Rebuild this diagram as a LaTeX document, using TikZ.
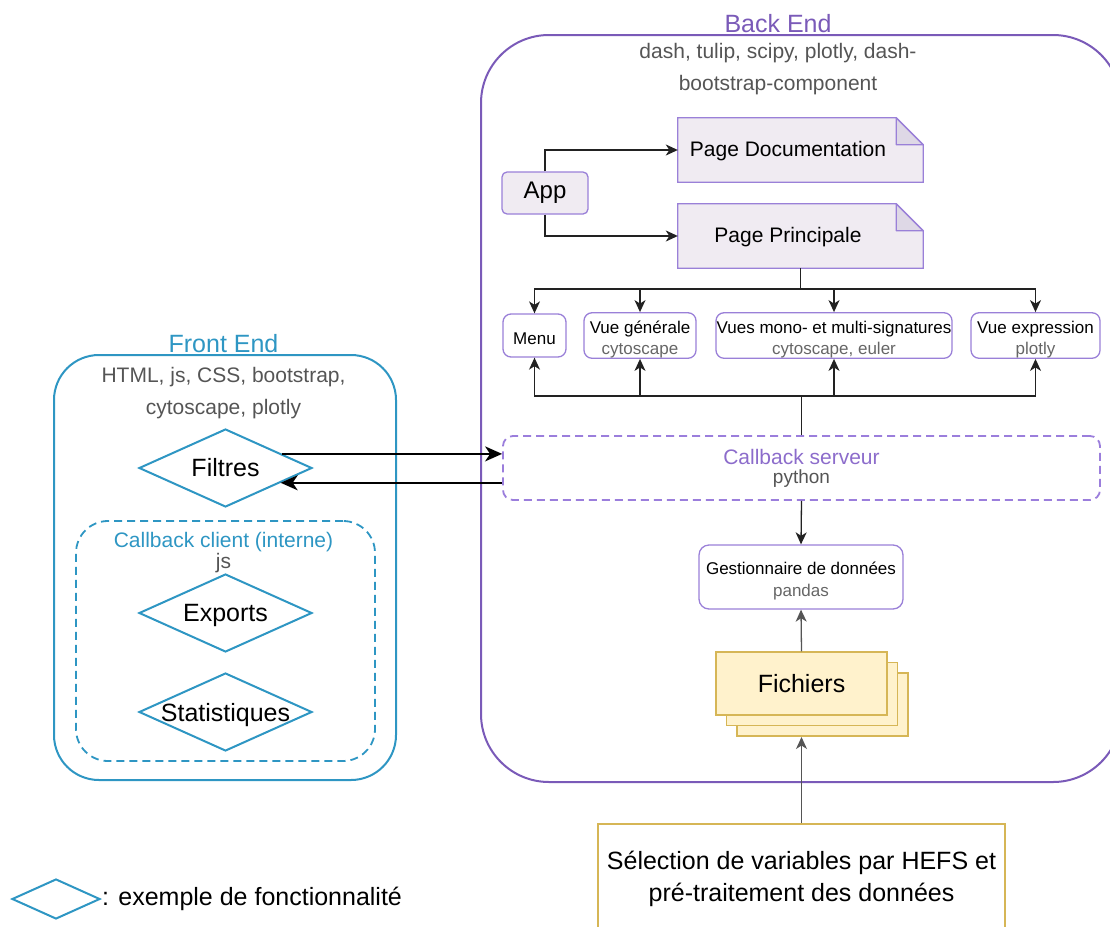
\documentclass[tikz,border=0pt]{standalone}
\usepackage{fontspec}
\setmainfont{Liberation Sans}
\usetikzlibrary{arrows.meta,shapes.geometric,calc,shadows}

\definecolor{frontblue}{HTML}{2E96C3}
\definecolor{backpurple}{HTML}{7A5AB8}
\definecolor{nodepurple}{HTML}{9A80D8}
\definecolor{cbpurple}{HTML}{8C6CCB}
\definecolor{cbdash}{HTML}{9B7EDC}
\definecolor{notefill}{HTML}{F0EBF2}
\definecolor{foldfill}{HTML}{DED8E6}
\definecolor{subgray}{HTML}{555555}
\definecolor{lightgray}{HTML}{666666}
\definecolor{filefill}{HTML}{FFF2CC}
\definecolor{filestroke}{HTML}{D6B656}
\definecolor{linkgray}{HTML}{222222}

% invisible strut that lifts the top of a label box
\newcommand{\toplift}[1]{\rule{0pt}{#1}}

\begin{document}
\begin{tikzpicture}[x=1pt,y=-1pt,
  fs25/.style={font=\fontsize{25}{30}\selectfont},
  fs21/.style={font=\fontsize{21}{32}\selectfont},
  fs17/.style={font=\fontsize{17}{21}\selectfont},
  container/.style={draw, line width=2pt, fill=none, inner sep=0pt},
  dashbox/.style={draw, line width=1.8pt, dash pattern=on 8pt off 5pt, inner sep=0pt},
  rowbox/.style={draw=nodepurple, line width=1.3pt, rounded corners=8pt, fill=white,
    minimum height=43pt, inner sep=0pt, align=center, fs17},
  notebody/.style={draw=nodepurple, line width=1.3pt, fill=notefill},
  notefold/.style={draw=nodepurple, line width=1.3pt, fill=foldfill, line join=round},
  notearea/.style={minimum width=245pt, minimum height=64pt, inner sep=0pt},
  feature/.style={diamond, draw=frontblue, line width=2pt, fill=white, aspect=2.2,
    inner sep=0pt, minimum width=173pt, minimum height=78pt, fs25},
  conn/.style={draw=linkgray, line width=1.3pt, -{Stealth[length=12pt,width=11pt,inset=3.5pt]}},
  grayconn/.style={conn, draw=subgray},
  bigarrow/.style={draw=black, line width=2pt, -{Stealth[length=17pt,width=15pt,inset=5pt]}},
  filebox/.style={draw=filestroke, line width=1.3pt, fill=filefill,
    minimum width=171pt, minimum height=63pt, inner sep=0pt, fs25}
]
\useasboundingbox (0,0) rectangle (1110,926);
\clip (0,0) rectangle (1110,926);

% ---------- Back End ----------
\node[container, draw=backpurple, rounded corners=68pt,
  minimum width=640pt, minimum height=747pt] (back) at (801,408.5) {};
\node[fs25, text=backpurple, anchor=base, inner sep=0pt] (backT) at (778,32) {Back End};
\node[fs21, text=subgray, align=center, inner sep=0pt] (backS) at (778,69)
  {dash, tulip, scipy, plotly, dash-\\bootstrap-component};

% App and its two pages
\node[draw=nodepurple, line width=1.3pt, fill=notefill, rounded corners=5pt,
  minimum width=86pt, minimum height=42pt, inner sep=0pt,
  font=\fontsize{24}{28}\selectfont] (app) at (545,193) {App};

\node[notearea] (doc) at (800.5,150) {};
\path[notebody] (doc.south west) -- (doc.north west) -- ($(doc.north east)+(-27,0)$)
  -- ($(doc.north east)+(0,27)$) -- (doc.south east) -- cycle;
\path[notefold] ($(doc.north east)+(-27,0)$) -- ($(doc.north east)+(-27,27)$)
  -- ($(doc.north east)+(0,27)$) -- cycle;
\node[fs21, inner sep=0pt] (docT) at (788,151.5) {Page Documentation};

\node[notearea] (princ) at (800.5,236) {};
\path[notebody] (princ.south west) -- (princ.north west) -- ($(princ.north east)+(-27,0)$)
  -- ($(princ.north east)+(0,27)$) -- (princ.south east) -- cycle;
\path[notefold] ($(princ.north east)+(-27,0)$) -- ($(princ.north east)+(-27,27)$)
  -- ($(princ.north east)+(0,27)$) -- cycle;
\node[fs21, inner sep=0pt] (princT) at (788,237.5) {Page Principale};

\draw[conn] (app.north) |- (doc.west);
\draw[conn] (app.south) |- (princ.west);

% Views
\node[rowbox, minimum width=63pt] (menu) at (534.5,335.5) {\toplift{18pt}Menu};
\node[rowbox, minimum width=112pt] (vgen) at (640,335.5)
  {\toplift{21pt}Vue générale\\\textcolor{lightgray}{cytoscape}};
\node[rowbox, minimum width=236pt] (vmono) at (834,335.5)
  {\toplift{21pt}Vues mono- et multi-signatures\\\textcolor{lightgray}{cytoscape, euler}};
\node[rowbox, minimum width=129pt] (vexp) at (1035.5,335.5)
  {\toplift{21pt}Vue expression\\\textcolor{lightgray}{plotly}};

\coordinate (topbus) at (800.5,289);
\draw[conn] (princ.south) -- (topbus) -| (menu.north);
\draw[conn] (princ.south) -- (topbus) -| (vgen.north);
\draw[conn] (princ.south) -- (topbus) -| (vmono.north);
\draw[conn] (princ.south) -- (topbus) -| (vexp.north);

% Server callback
\node[dashbox, draw=cbdash, rounded corners=10pt, minimum width=597pt,
  minimum height=64pt, align=center] (cbs) at (801.5,468)
  {{\fontsize{21}{22}\selectfont\textcolor{cbpurple}{Callback serveur}}\\[4pt]
   {\fontsize{19}{22}\selectfont\textcolor{subgray}{python}}};

\coordinate (lowbus) at (801.5,396);
\draw[conn] (cbs.north) -- (lowbus) -| (menu.south);
\draw[conn] (cbs.north) -- (lowbus) -| (vgen.south);
\draw[conn] (cbs.north) -- (lowbus) -| (vmono.south);
\draw[conn] (cbs.north) -- (lowbus) -| (vexp.south);

% Data manager
\node[draw=nodepurple, line width=1.3pt, rounded corners=10pt, fill=white,
  minimum width=204pt, minimum height=64pt, inner sep=0pt, align=center,
  font=\fontsize{17}{22}\selectfont] (gest) at (801,577)
  {\toplift{21pt}Gestionnaire de données\\\textcolor{lightgray}{pandas}};
\draw[conn] (cbs.south) -- (gest.north);

% Files
\node[filebox,
  general shadow={draw=filestroke, fill=filefill, line width=1.3pt,
    shadow xshift=21pt, shadow yshift=-21pt},
  general shadow={draw=filestroke, fill=filefill, line width=1.3pt,
    shadow xshift=10.5pt, shadow yshift=-10.5pt}] (fich) at (801.5,683.5) {Fichiers};
\coordinate (fichback) at (801.5,737);
\draw[grayconn] (fich.north) -- (gest.south);

% Pre-processing
\node[draw=filestroke, line width=1.3pt, fill=white, minimum width=407pt,
  minimum height=110pt, inner sep=0pt, align=center,
  font=\fontsize{25}{32}\selectfont] (sel) at (801.5,879)
  {Sélection de variables par HEFS et\\pré-traitement des données};
\draw[grayconn] (sel.north) -- (fichback);

% ---------- Front End ----------
\node[container, draw=frontblue, rounded corners=45pt,
  minimum width=342pt, minimum height=425pt] (front) at (225,567.5) {};
\node[fs25, text=frontblue, anchor=base, inner sep=0pt] (frontT) at (223.5,352) {Front End};
\node[fs21, text=subgray, align=center, inner sep=0pt] (frontS) at (223.5,393)
  {HTML, js, CSS, bootstrap,\\cytoscape, plotly};

\node[feature] (filtres) at (225.5,468) {\makebox[0pt]{Filtres}};

\node[dashbox, draw=frontblue, rounded corners=32pt,
  minimum width=299pt, minimum height=240pt] (cbc) at (225.5,641) {};
\node[align=center, inner sep=0pt, font=\fontsize{21}{21}\selectfont] (cbcT) at (223.5,553)
  {\textcolor{frontblue}{Callback client (interne)}\\\textcolor{subgray}{js}};

\node[feature] (exports) at (225.5,613) {\makebox[0pt]{\toplift{23pt}Exports}};
\node[feature] (stats) at (225.5,712) {\makebox[0pt]{\toplift{24pt}Statistiques}};

% Front/back exchanges
\draw[bigarrow] (filtres.14.2) -- (cbs.west |- filtres.14.2);
\draw[bigarrow] (cbs.west |- filtres.-15.7) -- (filtres.-15.7);

% ---------- Legend ----------
\node[diamond, draw=frontblue, line width=2pt, aspect=2.2, inner sep=0pt,
  minimum width=88pt, minimum height=40pt] (legdia) at (56,899) {};
\node[fs25, anchor=west, inner sep=1pt] (legtxt) at (legdia.east) {: exemple de fonctionnalité};
\end{tikzpicture}
\end{document}
